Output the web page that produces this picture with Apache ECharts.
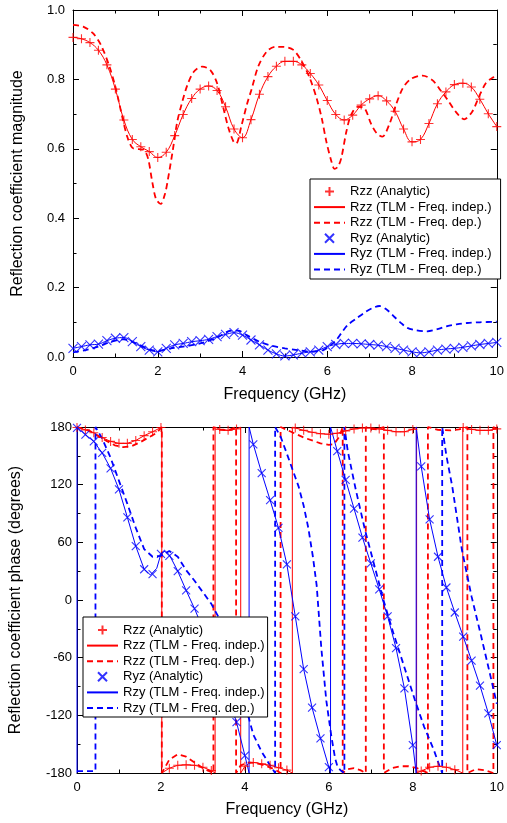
<!DOCTYPE html>
<html><head><meta charset="utf-8">
<script src="https://cdn.jsdelivr.net/npm/echarts@6/dist/echarts.min.js"></script>
<style>html,body{margin:0;padding:0;background:#fff}#c{width:507px;height:823px}</style>
</head><body><div id="c"></div>
<script>
// ---------- data ----------
const freqAnalytic = [0,0.2,0.4,0.6,0.8,1,1.2,1.4,1.6,1.8,2,2.2,2.4,2.6,2.8,3,3.2,3.4,3.6,3.8,4,4.2,4.4,4.6,4.8,5,5.2,5.4,5.6,5.8,6,6.2,6.4,6.6,6.8,7,7.2,7.4,7.6,7.8,8,8.2,8.4,8.6,8.8,9,9.2,9.4,9.6,9.8,10];
const magTickLabels = ['0.0','0.2','0.4','0.6','0.8','1.0'];
const phaseTickLabels = ['-180','-120','-60','0','60','120','180'];
const freqTickLabels = ['0','2','4','6','8','10'];

// magnitude
const rzzMagAnalytic = [0.921,0.917,0.906,0.884,0.842,0.772,0.683,0.627,0.606,0.592,0.575,0.590,0.638,0.699,0.745,0.772,0.781,0.768,0.721,0.657,0.632,0.684,0.757,0.808,0.838,0.852,0.852,0.842,0.817,0.784,0.739,0.699,0.683,0.697,0.726,0.744,0.753,0.738,0.708,0.657,0.620,0.627,0.673,0.730,0.764,0.785,0.789,0.778,0.743,0.701,0.664];
const rzzMagIndep = rzzMagAnalytic; // TLM freq-indep curve lies on the analytic one
const rzzMagDep = [[0,0.957],[0.24,0.952],[0.47,0.933],[0.66,0.899],[0.86,0.837],[1.01,0.774],[1.17,0.688],[1.28,0.635],[1.4,0.603],[1.55,0.599],[1.67,0.597],[1.77,0.573],[1.87,0.505],[1.96,0.455],[2.07,0.441],[2.17,0.47],[2.23,0.505],[2.35,0.592],[2.46,0.678],[2.58,0.736],[2.7,0.784],[2.85,0.822],[3.05,0.837],[3.24,0.827],[3.4,0.789],[3.55,0.717],[3.67,0.659],[3.79,0.620],[3.85,0.615],[3.98,0.669],[4.1,0.726],[4.22,0.774],[4.37,0.837],[4.57,0.880],[4.77,0.894],[4.96,0.894],[5.2,0.885],[5.4,0.851],[5.59,0.803],[5.75,0.745],[5.87,0.688],[5.98,0.620],[6.1,0.563],[6.17,0.542],[6.25,0.548],[6.33,0.573],[6.45,0.649],[6.56,0.697],[6.72,0.721],[6.88,0.717],[7.03,0.673],[7.17,0.644],[7.3,0.635],[7.46,0.669],[7.62,0.726],[7.78,0.774],[7.97,0.801],[8.25,0.811],[8.48,0.798],[8.64,0.774],[8.84,0.741],[9.03,0.707],[9.23,0.685],[9.42,0.707],[9.58,0.750],[9.74,0.789],[9.9,0.805],[10,0.808]];
const ryzMagAnalytic = [0.025,0.030,0.035,0.037,0.047,0.054,0.056,0.044,0.030,0.020,0.015,0.025,0.035,0.039,0.044,0.047,0.051,0.059,0.065,0.070,0.063,0.049,0.035,0.020,0.009,0.003,0.006,0.011,0.015,0.020,0.030,0.036,0.039,0.039,0.038,0.036,0.034,0.030,0.025,0.020,0.015,0.012,0.015,0.020,0.023,0.025,0.028,0.032,0.036,0.039,0.042];
const ryzMagIndep = ryzMagAnalytic;
const ryzMagDep = [[0,0.013],[0.3,0.020],[0.6,0.030],[0.9,0.044],[1.2,0.051],[1.5,0.039],[1.8,0.022],[2.0,0.018],[2.3,0.025],[2.6,0.030],[3.0,0.039],[3.4,0.056],[3.7,0.075],[3.9,0.076],[4.1,0.063],[4.4,0.044],[4.7,0.032],[5.0,0.025],[5.3,0.020],[5.6,0.015],[5.9,0.020],[6.0,0.026],[6.1,0.036],[6.22,0.050],[6.35,0.072],[6.49,0.093],[6.7,0.112],[6.88,0.128],[7.05,0.140],[7.23,0.147],[7.4,0.137],[7.58,0.116],[7.75,0.097],[7.89,0.084],[8.1,0.077],[8.36,0.074],[8.6,0.080],[8.83,0.089],[9.05,0.094],[9.3,0.098],[9.6,0.100],[10,0.102]];

// phase (degrees), wrapped to [-180,180]
const rzzPhaseAnalytic = [179.5,177,174,169,165,163,163,166,171,175,179.5,-175,-172,-171.5,-172,-174,-177.5,177.5,176.5,178,-173,-169,-170.5,-172,-174.5,-177,179,176.5,174.5,173,172.5,173.5,176,178,179,179,178,176.5,175,175,177.5,-178,-174,-173,-174,-176.5,179.5,177.5,176.5,176.5,178];
const rzzPhaseIndep = [[0,180],[0.2,177],[0.4,174],[0.6,169],[0.8,165],[1.0,163],[1.2,163],[1.4,166],[1.6,171],[1.8,175],[2.02,180],[2.02,-180],[2.2,-175],[2.4,-172],[2.6,-171.5],[2.8,-172],[3.0,-174],[3.2,-177.5],[3.29,-180],[3.29,180],[3.4,177.5],[3.6,176.5],[3.8,178],[3.9,180],[3.9,-180],[4.0,-173],[4.1,-170],[4.2,-169],[4.4,-170.5],[4.6,-172],[4.8,-174.5],[5.0,-177],[5.13,-180],[5.13,180],[5.2,179],[5.4,176.5],[5.6,174.5],[5.8,173],[6.0,172.5],[6.2,173.5],[6.4,176],[6.6,178],[6.8,179],[7.0,179],[7.2,178],[7.4,176.5],[7.6,175],[7.8,175],[8.0,177.5],[8.09,180],[8.09,-180],[8.2,-178],[8.4,-174],[8.6,-173],[8.8,-174],[9.0,-176.5],[9.19,-180],[9.19,180],[9.4,177.5],[9.6,176.5],[9.8,176.5],[10,178]];
const rzzPhaseDep = [[0,180],[0.3,176],[0.6,168],[0.9,161],[1.1,159],[1.3,160],[1.5,164],[1.7,169],[1.9,174],[2.02,180],[2.02,-180],[2.2,-166],[2.4,-160.5],[2.6,-163],[2.8,-169],[3.0,-175],[3.25,-180],[3.25,180],[3.4,177],[3.6,176.5],[3.79,180],[3.79,-180],[3.9,-172],[4.1,-169],[4.3,-170],[4.5,-172.5],[4.7,-176],[4.85,-180],[4.85,180],[5.0,177],[5.2,173],[5.4,169],[5.6,166],[5.8,163],[6.0,161.5],[6.12,162],[6.25,170],[6.33,180],[6.33,-180],[6.45,-176],[6.6,-175],[6.75,-177],[6.88,-180],[6.88,180],[7.0,178],[7.15,177.5],[7.31,180],[7.31,-180],[7.5,-175],[7.7,-173],[7.9,-173],[8.1,-175],[8.36,-180],[8.36,180],[8.6,177],[8.9,176.5],[9.1,177.5],[9.3,180],[9.3,-180],[9.5,-176],[9.7,-177],[9.92,-180],[9.92,180],[10,178]];
const ryzPhaseAnalytic = [179,172,165,153,137,115,86,56,32,27,48,46,30,10,-9,-30,-52,-76,-101,-127,-162,162,132,104,75,37,-17,-72,-112,-144,-174,155,125,95,65,38,11,-17,-50,-92,-151,139,84,45,13,-13,-38,-63,-89,-118,-151];
const rzyPhaseIndep = [[0,-180],[0,180],[0.2,172],[0.4,165],[0.6,153],[0.8,137],[1.0,115],[1.2,86],[1.4,56],[1.6,32],[1.75,26],[1.9,33],[2.0,48],[2.1,51],[2.2,47],[2.4,30],[2.6,10],[2.8,-9],[3.0,-30],[3.2,-52],[3.4,-76],[3.6,-101],[3.8,-127],[4.0,-162],[4.1,-180],[4.1,180],[4.2,162],[4.4,132],[4.6,104],[4.8,75],[5.0,37],[5.2,-17],[5.4,-72],[5.6,-112],[5.8,-144],[6.0,-174],[6.04,-180],[6.04,180],[6.2,155],[6.4,125],[6.6,95],[6.8,65],[7.0,38],[7.2,11],[7.4,-17],[7.6,-50],[7.8,-92],[8.0,-151],[8.08,-180],[8.08,180],[8.2,139],[8.4,84],[8.6,45],[8.8,13],[9.0,-13],[9.2,-38],[9.4,-63],[9.6,-89],[9.8,-118],[10,-151]];
const rzyPhaseDep = [[0,-178],[0.2,-178],[0.44,-178],[0.44,180],[0.6,168],[0.8,148],[1.0,124],[1.2,100],[1.4,75],[1.6,53],[1.8,45],[2.0,46],[2.2,51],[2.4,45],[2.6,31],[2.8,20],[3.0,8],[3.2,-4],[3.4,-20],[3.6,-45],[3.8,-72],[4.0,-108],[4.2,-140],[4.4,-158],[4.6,-172],[4.72,-180],[4.72,180],[4.85,170],[4.96,157],[5.1,140],[5.28,118],[5.4,98],[5.51,75],[5.62,45],[5.71,15],[5.82,-50],[5.94,-105],[6.06,-142],[6.15,-165],[6.21,-174],[6.3,-178],[6.37,-180],[6.37,180],[6.45,155],[6.64,115],[6.86,73],[7.09,35],[7.3,0],[7.54,-35],[7.77,-66],[8.05,-104],[8.27,-132],[8.5,-156],[8.63,-172],[8.7,-180],[8.7,180],[8.8,150],[8.94,118],[9.17,52],[9.4,3.5],[9.63,-38],[9.87,-83],[10,-108]];

// ---------- chart ----------
const FONT = 'Liberation Sans';
const RED = '#ff0000', BLUE = '#0000ff';
const PLUS = 'path://M5,0 L5,10 M0,5 L10,5';
const CROSS = 'path://M0,0 L10,10 M0,10 L10,0';
const NAMES = {
  rzzA: 'Rzz (Analytic)', rzzI: 'Rzz (TLM - Freq. indep.)', rzzD: 'Rzz (TLM - Freq. dep.)',
  ryzA: 'Ryz (Analytic)', ryzI: 'Ryz (TLM - Freq. indep.)', ryzD: 'Ryz (TLM - Freq. dep.)',
  rzyI: 'Rzy (TLM - Freq. indep.)', rzyD: 'Rzy (TLM - Freq. dep.)'
};
const zipA = arr => freqAnalytic.map((f, i) => [f, arr[i]]);

function xAx(grid, pos, withLabel, gap) {
  return {
    gridIndex: grid, type: 'value', min: 0, max: 10, interval: 2, position: pos,
    axisLine: { show: true, onZero: false, lineStyle: { color: '#000', width: 1 } },
    axisTick: { show: true, inside: true, length: 6, lineStyle: { color: '#000' } },
    minorTick: { show: true, splitNumber: 2, length: 3.5, lineStyle: { color: '#000' } },
    splitLine: { show: false }, minorSplitLine: { show: false },
    axisLabel: { show: withLabel, color: '#000', fontSize: 13, fontFamily: FONT, margin: 8,
      formatter: v => freqTickLabels[Math.round(v / 2)] },
    name: withLabel ? 'Frequency (GHz)' : '', nameLocation: 'middle', nameGap: gap,
    nameTextStyle: { fontSize: 16, color: '#000', fontFamily: FONT }
  };
}
function yAx(grid, pos, withLabel, min, max, interval, labels, name, gap, margin) {
  return {
    gridIndex: grid, type: 'value', min: min, max: max, interval: interval, position: pos,
    axisLine: { show: true, onZero: false, lineStyle: { color: '#000', width: 1 } },
    axisTick: { show: true, inside: true, length: 6, lineStyle: { color: '#000' } },
    minorTick: { show: true, splitNumber: 2, length: 3.5, lineStyle: { color: '#000' } },
    splitLine: { show: false }, minorSplitLine: { show: false },
    axisLabel: { show: withLabel, color: '#000', fontSize: 13, fontFamily: FONT, margin: margin,
      formatter: v => labels[Math.round((v - min) / interval)] },
    name: withLabel ? name : '', nameLocation: 'middle', nameGap: gap, nameRotate: 90,
    nameTextStyle: { fontSize: 16, color: '#000', fontFamily: FONT }
  };
}
function marks(name, data, symbol, color, size, grid) {
  return { name, type: 'scatter', xAxisIndex: grid * 2, yAxisIndex: grid * 2, data,
    symbol, symbolSize: size,
    itemStyle: { color: 'rgba(0,0,0,0)', borderColor: color, borderWidth: 1.1 },
    emphasis: { disabled: true }, z: 3 };
}
function line(name, data, color, dashed, grid, smooth) {
  return { name, type: 'line', xAxisIndex: grid * 2, yAxisIndex: grid * 2, data,
    symbol: 'none', smooth: smooth, clip: true,
    lineStyle: { color, width: dashed ? 1.8 : 1, type: dashed ? [6, 4] : 'solid' },
    itemStyle: { color }, emphasis: { disabled: true }, z: 2 };
}
// legend entries: line entries get an invisible symbol so only the line shows
const lineItem = name => ({ name, itemStyle: { opacity: 0 } });
function legend(left, top, pad, names) {
  return { left, top, orient: 'vertical', itemWidth: 31, itemHeight: 9, itemGap: 2.6,
    padding: pad, borderColor: '#000', borderWidth: 1, borderRadius: 0, backgroundColor: '#fff',
    selectedMode: false, align: 'left',
    textStyle: { fontSize: 13, fontFamily: FONT, color: '#000', lineHeight: 13 },
    data: names };
}

const chart = echarts.init(document.getElementById('c'), null, { renderer: 'canvas' });
chart.setOption({
  animation: false,
  backgroundColor: '#fff',
  grid: [
    { left: 73, top: 10, width: 427, height: 347 },
    { left: 73, top: 427, width: 427, height: 346 }
  ],
  xAxis: [xAx(0, 'bottom', true, 30), xAx(0, 'top', false, 0), xAx(1, 'bottom', true, 29), xAx(1, 'top', false, 0)],
  yAxis: [
    yAx(0, 'left', true, 0, 1, 0.2, magTickLabels, 'Reflection coefficient magnitude', 47, 8),
    yAx(0, 'right', false, 0, 1, 0.2, magTickLabels, '', 0, 8),
    yAx(1, 'left', true, -180, 180, 60, phaseTickLabels, 'Reflection coefficient phase (degrees)', 53, 5),
    yAx(1, 'right', false, -180, 180, 60, phaseTickLabels, '', 0, 5)
  ],
  legend: [
    legend(310, 179, [6, 9, 3, 3], [NAMES.rzzA, lineItem(NAMES.rzzI), lineItem(NAMES.rzzD), NAMES.ryzA, lineItem(NAMES.ryzI), lineItem(NAMES.ryzD)]),
    legend(83, 617, [6.5, 3, 2.5, 3], [NAMES.rzzA, lineItem(NAMES.rzzI), lineItem(NAMES.rzzD), NAMES.ryzA, lineItem(NAMES.rzyI), lineItem(NAMES.rzyD)])
  ],
  series: [
    // top: magnitude
    line(NAMES.rzzD, rzzMagDep, RED, true, 0, 0.3),
    line(NAMES.rzzI, zipA(rzzMagIndep), RED, false, 0, 0.4),
    marks(NAMES.rzzA, zipA(rzzMagAnalytic), PLUS, RED, 9, 0),
    line(NAMES.ryzD, ryzMagDep, BLUE, true, 0, 0.3),
    line(NAMES.ryzI, zipA(ryzMagIndep), BLUE, false, 0, 0.4),
    marks(NAMES.ryzA, zipA(ryzMagAnalytic), CROSS, BLUE, 9, 0),
    // bottom: phase
    line(NAMES.rzzD, rzzPhaseDep, RED, true, 1, false),
    line(NAMES.rzzI, rzzPhaseIndep, RED, false, 1, false),
    marks(NAMES.rzzA, zipA(rzzPhaseAnalytic), PLUS, RED, 9, 1),
    line(NAMES.rzyD, rzyPhaseDep, BLUE, true, 1, false),
    line(NAMES.rzyI, rzyPhaseIndep, BLUE, false, 1, false),
    marks(NAMES.ryzA, zipA(ryzPhaseAnalytic), CROSS, BLUE, 8, 1)
  ]
});
</script>
</body></html>
